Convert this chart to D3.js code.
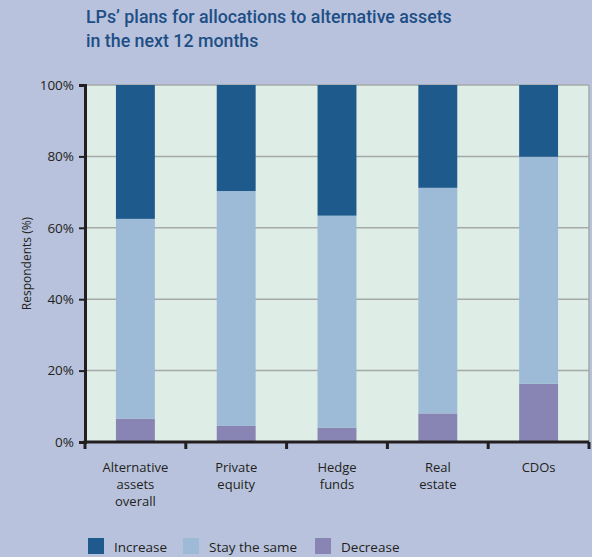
<!DOCTYPE html>
<html>
<head>
<meta charset="utf-8">
<script src="https://cdn.jsdelivr.net/npm/d3@7"></script>
<style>
  body { margin: 0; background: #b8c2dc; }
  svg { display: block; }
  text { font-family: "Open Sans", sans-serif; fill: #231f20; }
</style>
</head>
<body>
<div id="chart"></div>
<script>
// chart data
var categories = [["Alternative", "assets", "overall"], ["Private", "equity"], ["Hedge", "funds"], ["Real", "estate"], ["CDOs"]];
var decreaseVals = [6.5, 4.5, 4, 8, 16.3];
var stayVals = [56, 65.8, 59.4, 63.2, 63.6];
var increaseVals = [37.5, 29.7, 36.6, 28.8, 20.1];
var yTicks = [0, 20, 40, 60, 80, 100];
var seriesNames = ["Increase", "Stay the same", "Decrease"];
var seriesColors = ["#1f5a8d", "#9dbad6", "#8884b3"];

var width = 592, height = 557;
var margin = {top: 85, right: 3, bottom: 115, left: 85};
var plotW = width - margin.left - margin.right,
    plotH = height - margin.top - margin.bottom;

var svg = d3.select("#chart").append("svg")
    .attr("width", width)
    .attr("height", height);

svg.append("rect").attr("width", width).attr("height", height).attr("fill", "#b8c2dc");

// title
var title = svg.append("text")
    .attr("x", 86)
    .attr("y", 23)
    .style("font-family", "Roboto, sans-serif")
    .style("font-weight", "500")
    .style("font-size", "17.8px")
    .style("fill", "#1d4e86");
title.append("tspan").attr("x", 86).attr("dy", 0).text("LPs\u2019 plans for allocations to alternative assets");
title.append("tspan").attr("x", 86).attr("dy", 24).text("in the next 12 months");

var g = svg.append("g").attr("transform", `translate(${margin.left}, ${margin.top})`);

var keys = categories.map(function(c) { return c.join(" "); });
var rows = keys.map(function(k, i) {
    return {key: k, Decrease: decreaseVals[i], "Stay the same": stayVals[i], Increase: increaseVals[i]};
});

var x = d3.scaleBand()
    .domain(keys)
    .range([0, plotW])
    .paddingInner(0.614)
    .paddingOuter(0.307);

var y = d3.scaleLinear()
    .domain([0, 100])
    .range([plotH, 0]);

g.append("rect")
    .attr("width", plotW).attr("height", plotH)
    .attr("fill", "#deede6");

// gridlines
g.selectAll(".grid").data(yTicks.filter(function(d) { return d > 0; }))
    .enter().append("line")
    .attr("x1", 0).attr("x2", plotW)
    .attr("y1", function(d) { return y(d); })
    .attr("y2", function(d) { return y(d); })
    .attr("stroke", "#a3aaa9")
    .attr("stroke-width", 1.5);

g.append("line")
    .attr("x1", plotW).attr("x2", plotW)
    .attr("y1", 0).attr("y2", plotH)
    .attr("stroke", "#a3aaa9")
    .attr("stroke-width", 1.5);

// stacked bars
var stack = d3.stack().keys(["Decrease", "Stay the same", "Increase"]);
var stacked = stack(rows);
var colorOf = d3.scaleOrdinal().domain(seriesNames).range(seriesColors);

g.selectAll(".layer").data(stacked)
    .enter().append("g")
    .attr("fill", function(d) { return colorOf(d.key); })
    .selectAll("rect").data(function(d) { return d; })
    .enter().append("rect")
    .attr("x", function(d) { return x(d.data.key); })
    .attr("width", x.bandwidth())
    .attr("y", function(d) { return y(d[1]); })
    .attr("height", function(d) { return y(d[0]) - y(d[1]); });

// y axis
var yAxis = g.append("g")
    .call(d3.axisLeft(y).tickValues(yTicks).tickFormat(function(d) { return d + "%"; }).tickSize(6).tickPadding(5));
yAxis.select(".domain").attr("stroke", "#231f20").attr("stroke-width", 3);
yAxis.selectAll(".tick line").attr("stroke", "#231f20").attr("stroke-width", 2);
yAxis.selectAll(".tick text").style("font-size", "13.5px").style("fill", "#231f20");

// x axis with ticks on band edges
var edges = keys.map(function(k) { return x(k) - x.step() * x.paddingInner() / 2; }).concat([plotW]);
edges[0] = 0;
g.append("line")
    .attr("x1", -1.5).attr("x2", plotW)
    .attr("y1", plotH).attr("y2", plotH)
    .attr("stroke", "#231f20").attr("stroke-width", 3);
g.selectAll(".xtick").data(edges)
    .enter().append("line")
    .attr("x1", function(d) { return d; }).attr("x2", function(d) { return d; })
    .attr("y1", plotH).attr("y2", plotH + 7)
    .attr("stroke", "#231f20").attr("stroke-width", 3);

g.selectAll(".xlab").data(categories)
    .enter().append("text")
    .attr("text-anchor", "middle")
    .attr("transform", function(d, i) { return `translate(${x(keys[i]) + x.bandwidth() / 2}, ${plotH + 30})`; })
    .style("font-size", "13px")
    .each(function(d) {
        var t = d3.select(this);
        d.forEach(function(line, j) {
            t.append("tspan").attr("x", 0).attr("dy", j === 0 ? 0 : 17).text(line);
        });
    });

// y axis title
svg.append("text")
    .attr("transform", `translate(31, ${margin.top + plotH / 2}) rotate(-90)`)
    .attr("text-anchor", "middle")
    .style("font-size", "12px")
    .text("Respondents (%)");

// legend
var legendX = [88, 183, 315];
var legend = svg.selectAll(".legend").data(seriesNames)
    .enter().append("g")
    .attr("transform", function(d, i) { return `translate(${legendX[i]}, 538)`; });
legend.append("rect")
    .attr("width", 16).attr("height", 16)
    .attr("fill", function(d) { return colorOf(d); });
legend.append("text")
    .attr("x", 26).attr("y", 13.5)
    .style("font-size", "13.5px")
    .text(function(d) { return d; });
</script>
</body>
</html>
